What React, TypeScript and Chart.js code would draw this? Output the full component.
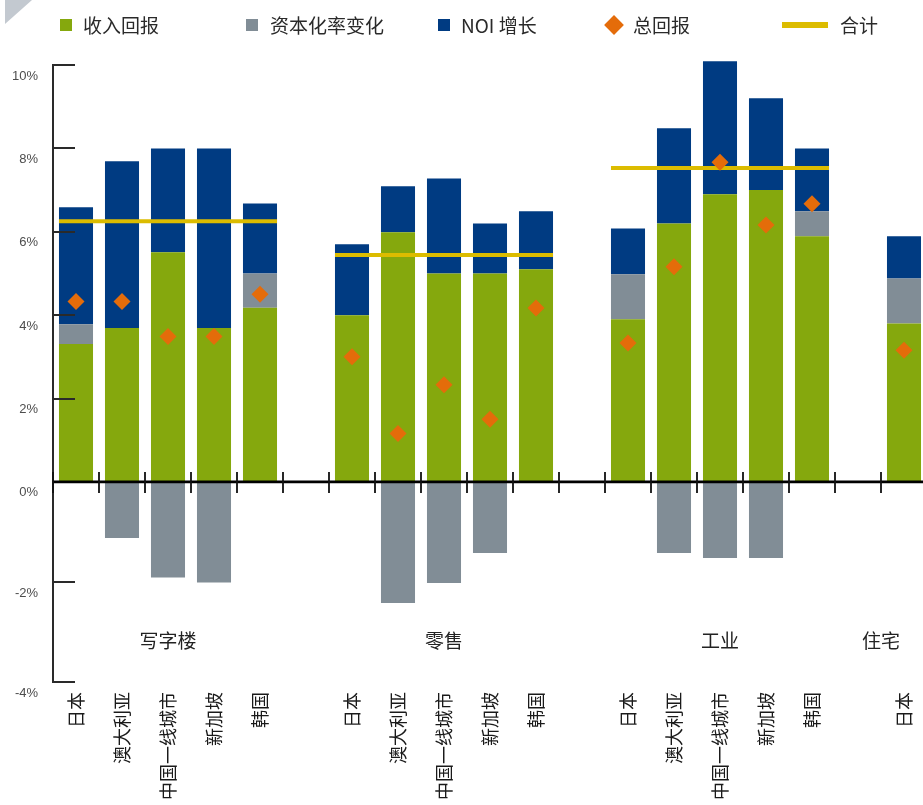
import React, { useEffect, useRef } from 'react';
import { Chart, registerables } from 'chart.js';

Chart.register(...registerables);

// ---------- data ----------
const categories = [
  '日本', '澳大利亚', '中国一线城市', '新加坡', '韩国', '',
  '日本', '澳大利亚', '中国一线城市', '新加坡', '韩国', '',
  '日本', '澳大利亚', '中国一线城市', '新加坡', '韩国', '',
  '日本',
];
const incomeReturn = [3.31, 3.69, 5.51, 3.69, 4.18, null, 4.0, 5.99, 5.0, 5.0, 5.1, null, 3.9, 6.2, 6.9, 7.0, 5.89, null, 3.8];
const capRateChange = [0.47, -1.12, -1.91, -2.01, 0.82, null, null, -2.42, -2.02, -1.42, null, null, 1.08, -1.42, -1.52, -1.52, 0.6, null, 1.08];
const noiGrowth = [2.81, 4.0, 2.49, 4.31, 1.68, null, 1.7, 1.1, 2.28, 1.2, 1.39, null, 1.1, 2.28, 3.19, 2.2, 1.51, null, 1.01];
const totalReturn = [4.33, 4.33, 3.49, 3.49, 4.5, null, 3.0, 1.16, 2.33, 1.5, 4.17, null, 3.33, 5.16, 7.67, 6.16, 6.67, null, 3.16];

const sectorNames = ['写字楼', '零售', '工业', '住宅'];
const sectorFirst = [0, 6, 12, 18];
const sectorLast = [4, 10, 16, 18];
const sectorTotal = [6.25, 5.44, 7.53, null];

const seriesNames = ['收入回报', '资本化率变化', 'NOI 增长', '总回报', '合计'];
const yTickValues = [-4, -2, 0, 2, 4, 6, 8, 10];

// ---------- styling ----------
const GREEN = '#85A80D';
const GRAY = '#818D96';
const BLUE = '#003B82';
const ORANGE = '#E46C0A';
const YELLOW = '#DCBC00';
const NEG_STRETCH = 1.2; // the reference draws the negative half of the axis on a larger scale
const SECTOR_LABEL_AT = [2, 8, 14, 17.5];
const HALF_BAR = 0.37;
const CJK = "'Noto Sans CJK SC', 'Noto Sans', sans-serif";

const toDisplay = (v: number | null) => (v === null ? null : v < 0 ? v * NEG_STRETCH : v);
const fromDisplay = (v: number) => Math.round((v < 0 ? v / NEG_STRETCH : v) * 100) / 100;
const asPoints = (arr: (number | null)[]) => arr.map((v, i) => ({ x: i, y: toDisplay(v) }));

const axesPlugin = {
  id: 'customAxes',
  afterDatasetsDraw(chart: any) {
    const { ctx, chartArea: a, scales } = chart;
    const x = scales.x;
    const y = scales.y;
    const y0 = y.getPixelForValue(0);
    ctx.save();
    // y axis line + inward ticks
    ctx.strokeStyle = '#2a2a2a';
    ctx.lineWidth = 2;
    ctx.beginPath();
    ctx.moveTo(a.left, a.top);
    ctx.lineTo(a.left, a.bottom);
    yTickValues.forEach((v) => {
      if (v === 0) return;
      const py = Math.round(y.getPixelForValue(toDisplay(v)));
      ctx.moveTo(a.left - 1, py);
      ctx.lineTo(a.left + 22, py);
    });
    ctx.stroke();
    // zero line
    ctx.strokeStyle = '#000';
    ctx.lineWidth = 2.6;
    ctx.beginPath();
    ctx.moveTo(a.left, y0);
    ctx.lineTo(a.right, y0);
    ctx.stroke();
    // category boundary ticks crossing the zero line
    ctx.lineWidth = 1.8;
    ctx.strokeStyle = '#111';
    ctx.beginPath();
    for (let i = 0; i <= categories.length; i++) {
      const px = Math.round(x.getPixelForValue(i - 0.5));
      ctx.moveTo(px, y0 - 10);
      ctx.lineTo(px, y0 + 11);
    }
    ctx.stroke();
    // sector labels
    ctx.fillStyle = '#222';
    ctx.font = `19px ${CJK}`;
    ctx.textAlign = 'center';
    ctx.textBaseline = 'middle';
    sectorNames.forEach((name, i) => {
      ctx.fillText(name, x.getPixelForValue(SECTOR_LABEL_AT[i]), a.bottom - 41);
    });
    ctx.restore();
  },
};

function LegendMarker({ kind, color }: { kind: string; color: string }) {
  if (kind === 'square') return <span style={{ display: 'inline-block', width: 12, height: 12, background: color }} />;
  if (kind === 'diamond')
    return (
      <span style={{ display: 'inline-block', width: 20, height: 20, position: 'relative' }}>
        <span
          style={{
            position: 'absolute', left: 3, top: 3, width: 14, height: 14, background: color,
            transform: 'rotate(45deg)',
          }}
        />
      </span>
    );
  return <span style={{ display: 'inline-block', width: 46, height: 6, background: color }} />;
}

export default function App() {
  const canvasRef = useRef<HTMLCanvasElement | null>(null);

  useEffect(() => {
    if (!canvasRef.current) return;
    const lineSets: any[] = [];
    sectorTotal.forEach((t, i) => {
      if (t === null) return;
      lineSets.push({
        type: 'line',
        label: seriesNames[4],
        stack: 'sector' + i,
        order: 1,
        data: [
          { x: sectorFirst[i] - HALF_BAR, y: t },
          { x: sectorLast[i] + HALF_BAR, y: t },
        ],
        borderColor: YELLOW,
        borderWidth: 4,
        pointRadius: 0,
        fill: false,
      });
    });

    const barCommon = {
      type: 'bar',
      stack: 'main',
      order: 2,
      grouped: false,
      barPercentage: 0.74,
      categoryPercentage: 1,
      borderWidth: 0,
    };

    const chart = new Chart(canvasRef.current, {
      type: 'bar',
      data: {
        datasets: [
          {
            type: 'line',
            label: seriesNames[3],
            stack: 'total',
            order: 0,
            data: asPoints(totalReturn),
            showLine: false,
            pointStyle: 'rectRot',
            pointRadius: 8.5,
            pointBackgroundColor: ORANGE,
            pointBorderWidth: 0,
            borderColor: ORANGE,
          },
          ...lineSets,
          { ...barCommon, label: seriesNames[0], data: asPoints(incomeReturn), backgroundColor: GREEN },
          { ...barCommon, label: seriesNames[1], data: asPoints(capRateChange), backgroundColor: GRAY },
          { ...barCommon, label: seriesNames[2], data: asPoints(noiGrowth), backgroundColor: BLUE, clip: false },
        ],
      },
      options: {
        animation: false,
        responsive: true,
        maintainAspectRatio: false,
        layout: { autoPadding: false, padding: { top: 65, left: 0, right: 0, bottom: 0 } },
        plugins: { legend: { display: false }, tooltip: { enabled: false } },
        scales: {
          x: {
            type: 'linear',
            offset: false,
            stacked: true,
            min: -0.5,
            max: categories.length - 0.5,
            grid: { display: false, drawTicks: false, offset: false },
            border: { display: false },
            afterBuildTicks: (s: any) => {
              s.ticks = categories.map((_, i) => ({ value: i }));
            },
            ticks: {
              autoSkip: false,
              minRotation: 90,
              maxRotation: 90,
              padding: 10,
              color: '#1a1a1a',
              font: { family: CJK, size: 18 },
              callback: (v: any) => categories[Math.round(Number(v))] ?? '',
            },
            afterFit: (s: any) => {
              s.height = 123;
              s.paddingLeft = 0;
              s.paddingRight = 0;
            },
          },
          y: {
            stacked: true,
            min: -4 * NEG_STRETCH,
            max: 10,
            grid: { display: false, drawTicks: false },
            border: { display: false },
            afterBuildTicks: (s: any) => {
              s.ticks = yTickValues.map((v) => ({ value: toDisplay(v) }));
            },
            afterFit: (s: any) => {
              s.width = 53;
            },
            ticks: {
              padding: 15,
              labelOffset: 11,
              color: '#4d4d4d',
              font: { family: "'Liberation Sans', Arial, sans-serif", size: 13 },
              callback: (v: any) => fromDisplay(Number(v)) + '%',
            },
          },
        },
      } as any,
      plugins: [axesPlugin],
    } as any);
    return () => chart.destroy();
  }, []);

  const legendItems = [
    { kind: 'square', color: GREEN, left: 60, gap: 11 },
    { kind: 'square', color: GRAY, left: 246, gap: 12 },
    { kind: 'square', color: BLUE, left: 438, gap: 11 },
    { kind: 'diamond', color: ORANGE, left: 604, gap: 9 },
    { kind: 'line', color: YELLOW, left: 782, gap: 12 },
  ];

  return (
    <div
      style={{
        position: 'absolute', left: 0, top: 0, width: 923, height: 805, overflow: 'hidden', background: '#fff',
      }}
    >
      <div
        style={{
          position: 'absolute', left: 5, top: 0, width: 27, height: 24, background: '#C3C9D0',
          clipPath: 'polygon(0 0, 100% 0, 0 100%)',
        }}
      />
      <div style={{ position: 'absolute', left: 0, top: 0, width: 927, height: 805 }}>
        <canvas ref={canvasRef} />
      </div>
      {legendItems.map((it, i) => (
        <div
          key={i}
          style={{
            position: 'absolute', left: it.left, top: 11, height: 28, display: 'flex', alignItems: 'center',
            fontFamily: CJK, fontSize: 19, color: '#2a2a2a', whiteSpace: 'nowrap', lineHeight: '28px',
          }}
        >
          <LegendMarker kind={it.kind} color={it.color} />
          <span style={{ marginLeft: it.gap }}>{seriesNames[i]}</span>
        </div>
      ))}
    </div>
  );
}
